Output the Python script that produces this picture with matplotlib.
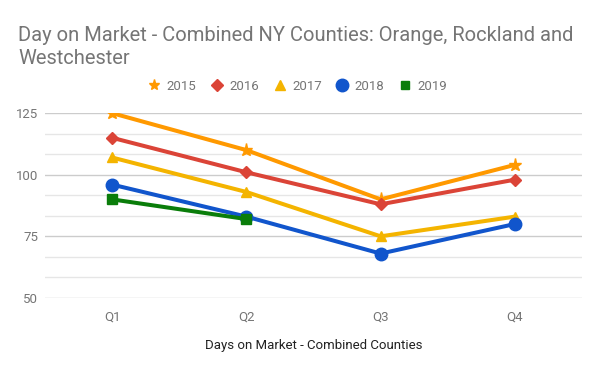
import matplotlib
matplotlib.use("Agg")
import matplotlib.pyplot as plt
from matplotlib.ticker import MultipleLocator

plt.rcParams['font.family'] = ['Roboto', 'DejaVu Sans']

quarters = ["Q1", "Q2", "Q3", "Q4"]
s2015 = [125, 110, 90, 104]
s2016 = [115, 101, 88, 98]
s2017 = [107, 93, 75, 83]
s2018 = [96, 83, 68, 80]
s2019 = [90, 82]
yticks = [50, 75, 100, 125]

series = [
    ("2015", s2015, "#FF9900", "*", 9.5),
    ("2016", s2016, "#DB4437", "D", 6.5),
    ("2017", s2017, "#F4B400", "^", 7.5),
    ("2018", s2018, "#1155CC", "o", 9),
    ("2019", s2019, "#0A7D0A", "s", 6.5),
]

fig = plt.figure(figsize=(6.0, 3.71), dpi=100)
ax = fig.add_axes([0.075, 0.197, 0.895, 0.498])

x = list(range(len(quarters)))
handles = []
for name, vals, col, mk, ms in series:
    h, = ax.plot(x[:len(vals)], vals, color=col, marker=mk, markersize=ms,
                 linewidth=2.9, label=name, solid_capstyle='round', zorder=3)
    handles.append(h)

ax.set_xlim(-0.5, 3.5)
ax.set_ylim(50, 125)
ax.set_yticks(yticks)
ax.yaxis.set_minor_locator(MultipleLocator(25 / 3))
ax.grid(axis='y', which='major', color='#CCCCCC', linewidth=1)
ax.grid(axis='y', which='minor', color='#E6E6E6', linewidth=1)
ax.set_axisbelow(True)
ax.set_xticks(x)
ax.set_xticklabels(quarters)
for s in ax.spines.values():
    s.set_visible(False)
ax.tick_params(axis='both', which='both', length=0, colors='#757575', labelsize=9.5)
ax.tick_params(axis='x', pad=9)
ax.tick_params(axis='y', pad=5)
ax.set_xlabel("Days on Market - Combined Counties", fontsize=9.5, color='#222222', labelpad=11)

fig.text(0.03, 0.93, "Day on Market - Combined NY Counties: Orange, Rockland and\nWestchester",
         fontsize=14.5, color='#757575', va='top', ha='left', linespacing=1.3)

legend_ms = [8, 6.5, 6.5, 9, 6]
leg = fig.legend(handles=[plt.Line2D([], [], color=h.get_color(), marker=h.get_marker(),
                                      linestyle='none', markersize=m)
                          for h, m in zip(handles, legend_ms)],
                 labels=[s[0] for s in series], loc='center', bbox_to_anchor=(0.493, 0.768),
                 ncol=5, frameon=False, fontsize=9.5, handletextpad=0.2, columnspacing=0.8,
                 handlelength=1.5, labelcolor='#757575')

fig.savefig("out.png", dpi=100)
